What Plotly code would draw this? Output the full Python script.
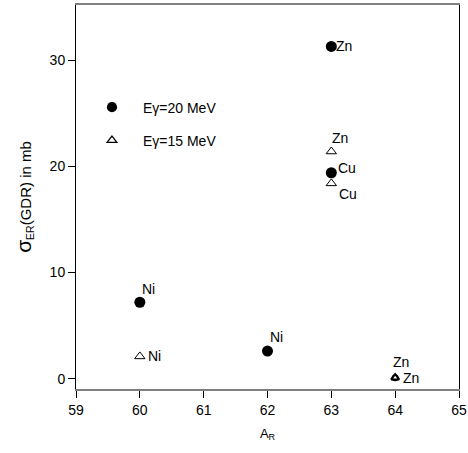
import plotly.graph_objects as go

# Data
ar_20 = [60, 62, 63, 63, 64]
sig_20 = [7.2, 2.6, 31.3, 19.4, 0.1]
lab_20 = ["Ni", "Ni", "Zn", "Cu", "Zn"]

ar_15 = [60, 63, 63, 64]
sig_15 = [2.1, 21.4, 18.4, 0.1]
lab_15 = ["Ni", "Zn", "Cu", "Zn"]

x_ticks = [59, 60, 61, 62, 63, 64, 65]
y_ticks = [0, 10, 20, 30]

FONT = "Liberation Sans, Arial, sans-serif"

fig = go.Figure()
fig.add_trace(go.Scatter(
    x=ar_20, y=sig_20, mode="markers", name="E\u03b3=20 MeV",
    legendgroup="a", opacity=1,
    marker=dict(symbol="circle", color="#000000", size=[11, 11, 11, 11, 7], opacity=1,
                line=dict(width=0)),
))
fig.add_trace(go.Scatter(
    x=ar_15, y=sig_15, mode="markers", name="E\u03b3=15 MeV",
    legendgroup="b", opacity=1,
    marker=dict(symbol="triangle-up", color="white", size=[9, 9, 9, 7], opacity=1,
                line=dict(color="black", width=[1, 1, 1, 2])),
))

# Point labels: (dx, dy) pixel offsets, anchors
off_20 = [(0, 3, "left", "bottom"), (0, 4, "left", "bottom"), (3, 0, "left", "middle"),
          (5, 5, "left", "middle"), (6, 6, "center", "bottom")]
off_15 = [(6, 0, "left", "middle"), (-1, 4, "left", "bottom"), (6, -1, "left", "top"),
          (6, 0, "left", "middle")]
for xs, ys, ls, offs in [(ar_20, sig_20, lab_20, off_20), (ar_15, sig_15, lab_15, off_15)]:
    for x, y, t, (dx, dy, xa, ya) in zip(xs, ys, ls, offs):
        fig.add_annotation(x=x, y=y, text=t, showarrow=False, xanchor=xa, yanchor=ya,
                           xshift=dx, yshift=dy, font=dict(size=14, color="black", family=FONT))

fig.update_layout(
    width=468, height=453,
    margin=dict(l=76, r=9, t=5, b=64),
    paper_bgcolor="white", plot_bgcolor="white",
    font=dict(family=FONT, size=14, color="black"),
    showlegend=True,
    legend=dict(x=0.013, y=0.69, xanchor="left", yanchor="middle", bgcolor="rgba(0,0,0,0)",
                font=dict(size=14), tracegroupgap=12, itemwidth=52),
    xaxis=dict(range=[59, 65], tickvals=x_ticks, showgrid=False, zeroline=False,
               automargin=False,
               showline=True, linecolor="#808080", linewidth=1.5, mirror=True,
               ticks="outside", ticklen=7, tickcolor="black", tickfont=dict(size=14),
               title=dict(text="A<sub>R</sub>", font=dict(size=13), standoff=12)),
    yaxis=dict(range=[-0.97, 35.2], tickvals=y_ticks, showgrid=False, zeroline=False,
               automargin=False,
               showline=True, linecolor="black", linewidth=1, mirror=True,
               ticks="outside", ticklen=7, tickcolor="black", tickfont=dict(size=14),
               title=dict(text="<span style='font-size:21px'>\u03c3</span><sub>ER</sub>(GDR) in mb",
                          font=dict(size=15), standoff=14)),
)

fig.write_html("out.html", config={"displayModeBar": False},
               post_script="document.body.style.margin='0';document.body.style.overflow='hidden';")
